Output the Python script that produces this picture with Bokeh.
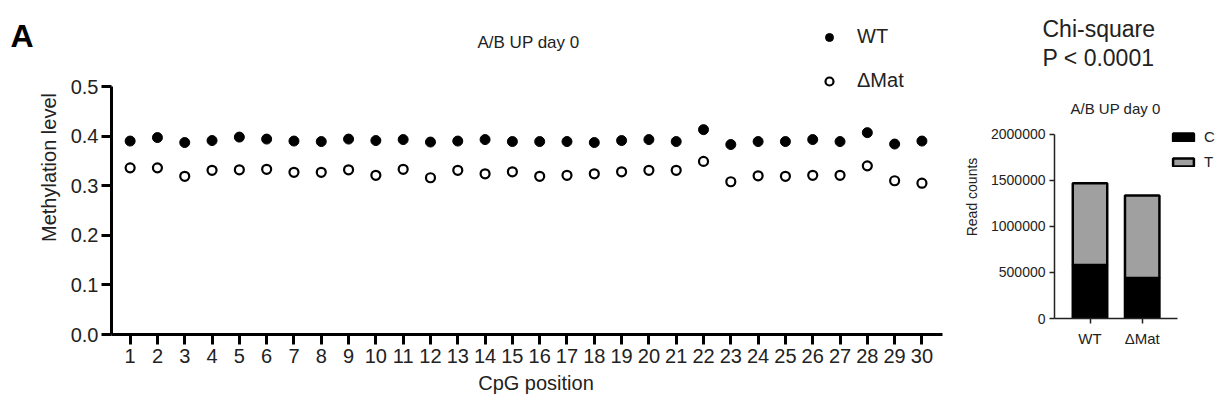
from bokeh.plotting import figure
from bokeh.layouts import row
from bokeh.models import (FixedTicker, PrintfTickFormatter, Label, Legend, LegendItem,
                          Range1d, ColumnDataSource, Title)
from bokeh.embed import file_html
from bokeh.resources import INLINE

# ---------------- data ----------------
positions = list(range(1, 31))
wt_level = [0.390, 0.397, 0.387, 0.391, 0.398, 0.394, 0.390, 0.389, 0.394, 0.391,
            0.393, 0.388, 0.390, 0.393, 0.389, 0.389, 0.389, 0.387, 0.391, 0.393,
            0.389, 0.413, 0.383, 0.389, 0.389, 0.393, 0.389, 0.407, 0.384, 0.390]
dmat_level = [0.336, 0.336, 0.319, 0.331, 0.332, 0.333, 0.327, 0.327, 0.332, 0.321,
              0.333, 0.316, 0.331, 0.324, 0.328, 0.319, 0.321, 0.324, 0.328, 0.331,
              0.331, 0.349, 0.308, 0.320, 0.319, 0.321, 0.321, 0.340, 0.310, 0.305]
y_ticks = [0.0, 0.1, 0.2, 0.3, 0.4, 0.5]

groups = ["WT", "ΔMat"]
c_counts = [580000, 439000]
t_counts = [887000, 895000]
count_ticks = [0, 500000, 1000000, 1500000, 2000000]

FONT = "Liberation Sans"
TXT = "#222222"


def no_align(fig):
    if "frame_align" in fig.properties():
        fig.frame_align = False


# ---------------- panel letter ----------------
fa = figure(width=34, height=409, x_axis_type=None, y_axis_type=None,
            x_range=Range1d(0, 1), y_range=Range1d(0, 1),
            output_backend="svg", toolbar_location=None,
            min_border_left=0, min_border_right=0, min_border_top=0, min_border_bottom=0)
fa.outline_line_color = None
fa.grid.visible = False
fa.add_layout(Label(x=10, y=409 - 35, x_units="screen", y_units="screen", text="A",
                    text_font=FONT, text_font_size="32px", text_font_style="bold",
                    text_color="black", text_baseline="alphabetic", text_align="left"))
no_align(fa)

# ---------------- left: methylation level ----------------
PX_X = 27.4            # pixels per CpG position
PX_Y = 496.0           # pixels per methylation unit
x0 = 1 - 18.7 / PX_X
p = figure(width=926, height=409,
           x_range=Range1d(x0, x0 + 852 / PX_X), y_range=Range1d(0, 0.5 + 86 / PX_Y),
           output_backend="svg", toolbar_location=None,
           min_border_left=74, min_border_right=0, min_border_top=0, min_border_bottom=75)
p.outline_line_color = None
p.xgrid.visible = False
p.ygrid.visible = False
no_align(p)

r_wt = p.scatter(positions, wt_level, size=10, fill_color="black", line_color="black")
r_dm = p.scatter(positions, dmat_level, size=9, fill_color="white", line_color="black", line_width=2.2)

for ax in (p.xaxis[0], p.yaxis[0]):
    ax.axis_line_width = 3
    ax.axis_line_color = "black"
    ax.major_tick_line_width = 3
    ax.major_tick_line_color = "black"
    ax.major_tick_out = 10
    ax.major_tick_in = 0
    ax.minor_tick_line_color = None
    ax.major_label_text_font = FONT
    ax.major_label_text_font_size = "20px"
    ax.major_label_text_color = TXT
    ax.axis_label_text_font = FONT
    ax.axis_label_text_font_size = "20px"
    ax.axis_label_text_font_style = "normal"
    ax.axis_label_text_color = TXT

p.xaxis.ticker = FixedTicker(ticks=positions)
p.xaxis.bounds = (x0, 30.76)
p.xaxis.axis_label = "CpG position"
p.xaxis.major_label_standoff = 4
p.xaxis.axis_label_standoff = 6
p.yaxis.ticker = FixedTicker(ticks=y_ticks)
p.yaxis.bounds = (0, 0.5)
p.yaxis.formatter = PrintfTickFormatter(format="%.1f")
p.yaxis.axis_label = "Methylation level"
p.yaxis.major_label_standoff = 3
p.yaxis.axis_label_standoff = 8

FL, FB = 108, 334
legend = Legend(items=[LegendItem(label="WT", renderers=[r_wt]),
                       LegendItem(label="ΔMat", renderers=[r_dm])],
                location=(816 - FL, FB - 92), padding=0, margin=0, border_line_color=None,
                background_fill_alpha=0, glyph_width=20, glyph_height=20,
                label_standoff=18, spacing=21,
                label_text_font=FONT, label_text_font_size="20px", label_text_color=TXT)
p.add_layout(legend)
p.add_layout(Label(x=525 - FL, y=FB - 42, x_units="screen", y_units="screen", text="A/B UP day 0",
                   text_font=FONT, text_font_size="17px", text_color=TXT,
                   text_baseline="middle", text_align="center"))

# ---------------- right: read counts ----------------
PX_B = 52.2                      # pixels per bar slot
PX_C = 184.5 / 2000000           # pixels per read
bx0 = 1 - (1089.5 - 1054) / PX_B
bar_x = [i + 1 for i in range(len(groups))]
q = figure(width=264, height=409,
           x_range=Range1d(bx0, bx0 + 170 / PX_B),
           y_range=Range1d(0, 2000000 + (133.5 - 75) / PX_C),
           output_backend="svg", toolbar_location=None,
           min_border_left=94, min_border_right=0, min_border_top=75, min_border_bottom=91)
q.outline_line_color = None
q.xgrid.visible = False
q.ygrid.visible = False
no_align(q)

src = ColumnDataSource(dict(x=bar_x, c=c_counts, t=t_counts))
bars = q.vbar_stack(["c", "t"], x="x", width=0.66, source=src,
                    fill_color=["black", "#a0a0a0"], line_color="black", line_width=2.5)

for ax in (q.xaxis[0], q.yaxis[0]):
    ax.axis_line_width = 1.5
    ax.axis_line_color = "#222222"
    ax.major_tick_line_width = 1.5
    ax.major_tick_line_color = "#222222"
    ax.major_tick_out = 5
    ax.major_tick_in = 0
    ax.minor_tick_line_color = None
    ax.major_label_text_font = FONT
    ax.major_label_text_color = TXT
    ax.axis_label_text_font = FONT
    ax.axis_label_text_font_size = "14px"
    ax.axis_label_text_font_style = "normal"
    ax.axis_label_text_color = TXT

q.xaxis.ticker = FixedTicker(ticks=bar_x)
q.xaxis.major_label_overrides = {x: g for x, g in zip(bar_x, groups)}
q.xaxis.bounds = (bx0, bx0 + 123 / PX_B)
q.xaxis.major_label_text_font_size = "15px"
q.xaxis.major_label_standoff = 6
q.yaxis.ticker = FixedTicker(ticks=count_ticks)
q.yaxis.bounds = (0, 2000000)
q.yaxis.formatter = PrintfTickFormatter(format="%d")
q.yaxis.major_label_text_font_size = "14px"
q.yaxis.major_label_standoff = 4
q.yaxis.axis_label = "Read counts"
q.yaxis.axis_label_standoff = 8

QL, QB = 1054, 318
legend2 = Legend(items=[LegendItem(label="C", renderers=[bars[0]]),
                        LegendItem(label="T", renderers=[bars[1]])],
                 location=(1170 - QL, QB - 170), padding=0, margin=0, border_line_color=None,
                 background_fill_alpha=0, glyph_width=26, glyph_height=10,
                 label_height=10, label_standoff=8, spacing=8,
                 label_text_font=FONT, label_text_font_size="15px", label_text_color=TXT)
q.add_layout(legend2)
q.add_layout(Label(x=1115 - QL, y=QB - 108, x_units="screen", y_units="screen", text="A/B UP day 0",
                   text_font=FONT, text_font_size="15px", text_color=TXT,
                   text_baseline="middle", text_align="center"))
q.add_layout(Title(text="Chi-square\nP < 0.0001", align="left", offset=1042 - QL,
                   vertical_align="bottom", standoff=9,
                   text_font=FONT, text_font_size="23px", text_font_style="normal",
                   text_color=TXT, text_line_height=1.1), "above")

layout = row(fa, p, q)
open("out.html", "w").write(file_html(layout, INLINE))
